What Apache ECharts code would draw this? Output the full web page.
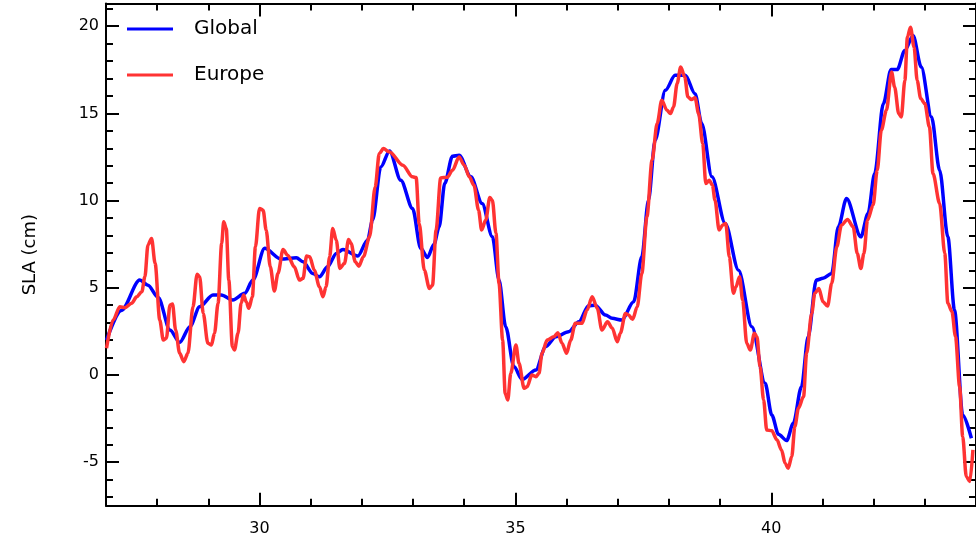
<!DOCTYPE html>
<html>
<head>
<meta charset="utf-8">
<script src="https://cdn.jsdelivr.net/npm/echarts@6/dist/echarts.min.js"></script>
<style>html,body{margin:0;padding:0;background:#fff;}#c{width:976px;height:545px;}</style>
</head>
<body>
<div id="c"></div>
<script>
// ---- data ----
const globalX = [27.01,27.3,27.66,27.82,28.02,28.25,28.44,28.64,28.83,29.09,29.25,29.48,29.71,29.87,30.10,30.42,30.72,30.85,31.04,31.17,31.33,31.50,31.63,31.92,32.11,32.21,32.37,32.54,32.76,32.99,33.15,33.28,33.41,33.51,33.62,33.77,33.90,34.13,34.35,34.55,34.68,34.81,34.97,35.13,35.40,35.59,35.79,36.04,36.24,36.43,36.56,36.76,36.89,37.08,37.31,37.47,37.60,37.73,37.93,38.12,38.32,38.51,38.64,38.84,39.10,39.36,39.62,39.88,40.01,40.14,40.30,40.43,40.59,40.72,40.88,41.01,41.18,41.31,41.47,41.75,41.89,42.02,42.19,42.34,42.46,42.61,42.77,42.93,43.13,43.29,43.45,43.58,43.74,43.91];
const globalY = [2.0,3.7,5.44,5.15,4.45,2.58,1.87,2.77,3.91,4.58,4.58,4.3,4.68,5.44,7.26,6.65,6.72,6.49,5.82,5.63,6.2,6.97,7.2,6.82,7.73,8.88,11.93,12.85,11.17,9.55,7.26,6.74,7.5,8.5,11.0,12.54,12.6,11.36,9.83,7.92,5.44,2.77,0.48,-0.25,0.29,1.62,2.19,2.48,3.05,3.97,4.0,3.44,3.25,3.15,4.2,6.78,10.02,13.46,16.32,17.18,17.18,16.13,14.42,11.36,8.69,6.01,2.77,-0.48,-2.3,-3.4,-3.76,-2.77,-0.67,2.19,5.44,5.54,5.82,8.5,10.12,7.92,9.26,11.55,15.56,17.51,17.51,18.61,19.47,17.66,14.79,11.74,7.92,3.72,-2.29,-3.63];
const europeX = [27.01,27.14,27.27,27.37,27.50,27.60,27.70,27.76,27.82,27.89,27.96,28.05,28.12,28.18,28.25,28.30,28.36,28.44,28.52,28.60,28.70,28.78,28.83,28.90,28.99,29.06,29.12,29.19,29.26,29.30,29.35,29.40,29.47,29.51,29.58,29.64,29.69,29.74,29.79,29.86,29.92,30.00,30.07,30.13,30.21,30.29,30.36,30.46,30.55,30.68,30.78,30.85,30.92,30.98,31.07,31.17,31.24,31.30,31.37,31.43,31.50,31.57,31.66,31.74,31.79,31.87,31.94,32.03,32.15,32.26,32.34,32.42,32.54,32.80,32.99,33.06,33.12,33.22,33.32,33.38,33.45,33.54,33.67,33.77,33.90,34.00,34.10,34.19,34.28,34.34,34.42,34.50,34.55,34.62,34.68,34.75,34.80,34.85,34.91,35.01,35.07,35.17,35.23,35.32,35.40,35.46,35.52,35.62,35.75,35.83,35.91,36.00,36.08,36.17,36.30,36.40,36.50,36.60,36.69,36.80,36.89,36.99,37.05,37.15,37.21,37.29,37.38,37.47,37.57,37.67,37.77,37.86,37.96,38.03,38.09,38.16,38.23,38.31,38.37,38.44,38.51,38.58,38.66,38.72,38.79,38.85,38.90,38.98,39.05,39.11,39.18,39.26,39.31,39.38,39.44,39.52,39.59,39.67,39.72,39.78,39.85,39.91,40.01,40.11,40.20,40.27,40.33,40.40,40.46,40.53,40.63,40.69,40.79,40.85,40.93,41.01,41.10,41.18,41.28,41.37,41.49,41.60,41.68,41.75,41.81,41.88,41.99,42.07,42.15,42.25,42.35,42.41,42.49,42.54,42.61,42.66,42.72,42.79,42.85,42.92,43.00,43.09,43.16,43.29,43.39,43.45,43.53,43.60,43.68,43.74,43.81,43.88,43.94];
const europeY = [1.53,3.15,3.91,3.86,4.11,4.48,4.77,5.63,7.45,7.83,6.40,3.15,2.0,2.10,4.01,4.07,2.58,1.24,0.76,1.24,3.91,5.78,5.63,3.53,1.82,1.72,2.39,4.11,7.54,8.78,8.40,5.44,1.62,1.43,2.39,4.11,4.58,4.20,3.82,4.49,7.35,9.55,9.45,8.31,6.2,4.82,5.82,7.20,6.87,6.20,5.44,5.54,6.82,6.78,6.01,5.06,4.49,5.06,6.78,8.40,7.73,6.11,6.40,7.77,7.54,6.49,6.24,6.78,7.92,10.78,12.70,12.98,12.79,12.03,11.36,11.32,8.69,6.01,4.96,5.15,8.31,11.3,11.34,11.74,12.5,12.03,11.36,10.88,9.45,8.31,8.88,10.18,10.02,8.12,5.25,2.0,-1.05,-1.43,0.10,1.72,0.67,-0.76,-0.67,0.0,-0.10,0.10,1.24,2.0,2.19,2.42,1.82,1.24,2.0,2.96,2.96,3.72,4.49,3.82,2.58,3.05,2.7,1.91,2.39,3.53,3.44,3.19,3.91,5.82,9.07,12.31,14.42,15.75,15.18,14.99,15.37,16.71,17.66,17.09,15.94,15.79,15.90,14.99,13.27,10.98,11.17,10.88,10.02,8.31,8.60,8.69,6.78,4.68,5.06,5.63,4.30,1.82,1.43,2.39,2.19,0.48,-1.43,-3.15,-3.2,-3.72,-4.30,-5.06,-5.35,-4.68,-2.96,-1.91,-1.24,1.24,3.53,4.68,4.96,4.20,3.95,5.25,7.35,8.59,8.92,8.50,6.97,6.11,6.97,8.88,9.74,11.74,14.03,15.18,17.37,16.51,14.99,14.79,16.89,19.37,19.94,18.80,16.89,15.85,15.56,14.22,11.55,9.83,6.97,4.11,3.63,2.19,-0.67,-3.53,-5.82,-6.11,-4.30];
const seriesNames = ['Global','Europe'];
const xMajorTicks = [30,35,40];
const xMinorTicks = [28,29,31,32,33,34,36,37,38,39,41,42,43];
const yMajorTicks = [-5,0,5,10,15,20];
const yMinorTicks = [-7,-6,-4,-3,-2,-1,1,2,3,4,6,7,8,9,11,12,13,14,16,17,18,19,21];
const xRange = [27,44];
const yRange = [-7.5,21.3];

const zip = (a,b) => a.map((v,i)=>[v,b[i]]);
const FONT = 'DejaVu Sans';
const lineStyle = {color:'#000', width:2};

function xAx(pos, ticks, len, showLine, showLabel){
  return {type:'value', position:pos, min:xRange[0], max:xRange[1],
    axisLine:{show:showLine, onZero:false, lineStyle:lineStyle},
    axisTick:{show:true, inside:true, length:len, customValues:ticks, lineStyle:lineStyle},
    axisLabel:{show:showLabel, customValues:ticks, color:'#000', fontFamily:FONT, fontSize:16, margin:15},
    splitLine:{show:false}};
}
function yAx(pos, ticks, len, showLine, showLabel, extra){
  return Object.assign({type:'value', position:pos, min:yRange[0], max:yRange[1],
    axisLine:{show:showLine, onZero:false, lineStyle:lineStyle},
    axisTick:{show:true, inside:true, length:len, customValues:ticks, lineStyle:lineStyle},
    axisLabel:{show:showLabel, customValues:ticks, color:'#000', fontFamily:FONT, fontSize:16, margin:7},
    splitLine:{show:false}}, extra||{});
}

const chart = echarts.init(document.getElementById('c'), null, {renderer:'canvas'});
chart.setOption({
  animation:false,
  backgroundColor:'#fff',
  grid:{left:106, top:3.5, width:870, height:502.3, containLabel:false},
  legend:{orient:'vertical', left:122, top:14, itemWidth:46, itemHeight:3, itemGap:26, icon:'rect',
    data:seriesNames,
    textStyle:{fontFamily:FONT, fontSize:20, color:'#000', lineHeight:20, padding:[0,0,0,16]}},
  xAxis:[
    xAx('bottom', xMajorTicks, 13, true, true),
    xAx('bottom', xMinorTicks, 7, false, false),
    xAx('top', xMajorTicks, 13, true, false),
    xAx('top', xMinorTicks, 7, false, false)
  ],
  yAxis:[
    yAx('left', yMajorTicks, 13, true, true, {name:'SLA (cm)', nameLocation:'middle', nameGap:67,
      nameTextStyle:{fontFamily:FONT, fontSize:18, color:'#000'}}),
    yAx('left', yMinorTicks, 7, false, false),
    yAx('right', yMajorTicks, 13, true, false),
    yAx('right', yMinorTicks, 7, false, false)
  ],
  series:[
    {name:seriesNames[0], type:'line', xAxisIndex:0, yAxisIndex:0, data:zip(globalX,globalY),
      showSymbol:false, symbol:'none', smooth:0.3, smoothMonotone:'x',
      lineStyle:{color:'#0000ff', width:3.5}, itemStyle:{color:'#0000ff'}},
    {name:seriesNames[1], type:'line', xAxisIndex:0, yAxisIndex:0, data:zip(europeX,europeY),
      showSymbol:false, symbol:'none', smooth:0.3, smoothMonotone:'x',
      lineStyle:{color:'#f33', width:3.5}, itemStyle:{color:'#f33'}}
  ]
});
</script>
</body>
</html>
